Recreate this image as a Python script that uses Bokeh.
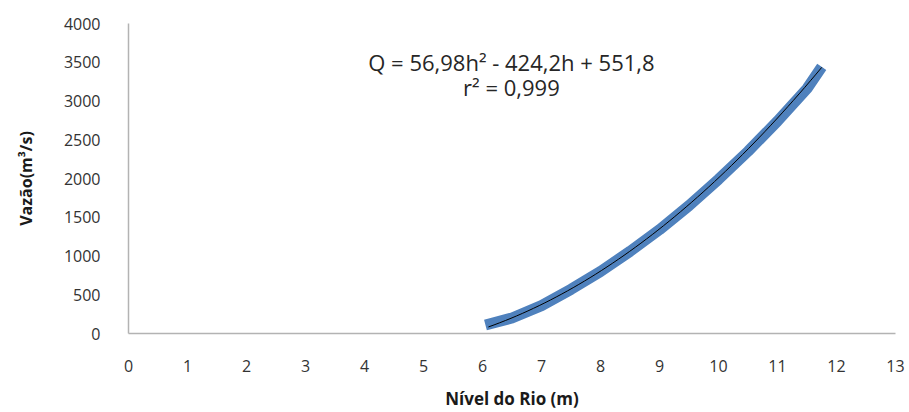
from bokeh.plotting import figure
from bokeh.models import Range1d, Label
from bokeh.embed import file_html
from bokeh.resources import INLINE
import numpy as np

nivel = [6.05, 6.5, 7.0, 7.5, 8.0, 8.5, 9.0, 9.5, 10.0, 10.5, 11.0, 11.5, 11.75]
vazao = [110, 200, 360, 570, 800, 1060, 1340, 1650, 1990, 2350, 2740, 3160, 3440]

# polynomial trendline coefficients (shown on the chart)
coef = [56.98, -424.2, 551.8]
trend_range = [6.1, 11.75]

x_ticks = list(range(0, 14))
y_ticks = list(range(0, 4001, 500))

p = figure(width=909, height=412, output_backend="svg", toolbar_location=None,
           x_range=Range1d(0, 13), y_range=Range1d(0, 4000),
           min_border_left=128, min_border_right=14, min_border_top=23, min_border_bottom=77)
p.outline_line_color = None
p.xgrid.grid_line_color = None
p.ygrid.grid_line_color = None
p.background_fill_color = "white"

p.line(nivel, vazao, line_color="#4f81bd", line_width=11, line_join="round", line_cap="butt")

th = np.linspace(trend_range[0], trend_range[1], 60)
tq = coef[0] * th ** 2 + coef[1] * th + coef[2]
p.line(th, tq, line_color="black", line_width=1)

for ax in (p.xaxis[0], p.yaxis[0]):
    ax.axis_line_color = "#b3b3b3"
    ax.axis_line_width = 1.5
    ax.major_tick_line_color = None
    ax.minor_tick_line_color = None
    ax.major_label_text_font = "Open Sans"
    ax.major_label_text_font_size = "16px"
    ax.major_label_text_color = "#333333"
    ax.axis_label_text_font = "Open Sans"
    ax.axis_label_text_font_style = "bold"
    ax.axis_label_text_color = "#1a1a1a"

p.xaxis.axis_label_text_font_size = "17px"
p.yaxis.axis_label_text_font_size = "16px"
p.xaxis.ticker = x_ticks
p.yaxis.ticker = y_ticks
p.xaxis.major_label_standoff = 20
p.yaxis.major_label_standoff = 22
p.xaxis.axis_label = "Nível do Rio (m)"
p.yaxis.axis_label = "Vazão(m³/s)"
p.xaxis.axis_label_standoff = 12
p.yaxis.axis_label_standoff = 24

p.add_layout(Label(x=6.49, y=3500, text="Q = 56,98h² - 424,2h + 551,8", text_align="center",
                   text_baseline="middle", text_font="Open Sans", text_font_size="22px",
                   text_color="#262626"))
p.add_layout(Label(x=6.49, y=3180, text="r² = 0,999", text_align="center",
                   text_baseline="middle", text_font="Open Sans", text_font_size="22px",
                   text_color="#262626"))

open("out.html", "w").write(file_html(p, INLINE))
